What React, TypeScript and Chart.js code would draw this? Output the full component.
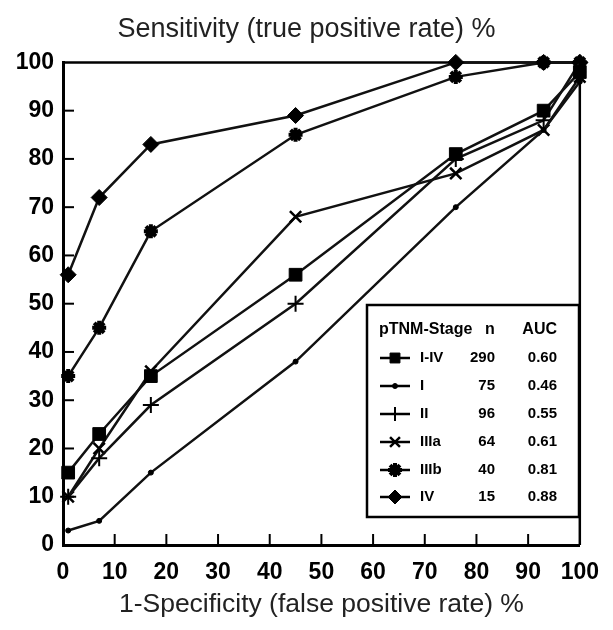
import React, { useEffect, useRef } from 'react';
import { Chart, registerables } from 'chart.js';
import { drawPoint } from 'chart.js/helpers';

Chart.register(...registerables);

// ---- data ----
const fpr = [1, 7, 17, 45, 76, 93, 100];
const tprAll = [15, 23, 35, 56, 81, 90, 98];
const tprI = [3, 5, 15, 38, 70, 86, 96];
const tprII = [10, 18, 29, 50, 80, 88, 100];
const tprIIIa = [10, 20, 36, 68, 77, 86, 97];
const tprIIIb = [35, 45, 65, 85, 97, 100, 100];
const tprIV = [56, 72, 83, 89, 100, 100, 100];

const stageNames = ['I-IV', 'I', 'II', 'IIIa', 'IIIb', 'IV'];
const nValues = ['290', '75', '96', '64', '40', '15'];
const aucValues = ['0.60', '0.46', '0.55', '0.61', '0.81', '0.88'];

const xTickValues = [0, 10, 20, 30, 40, 50, 60, 70, 80, 90, 100];
const yTickValues = [0, 10, 20, 30, 40, 50, 60, 70, 80, 90, 100];

const titleText = 'Sensitivity (true positive rate) %';
const xTitleText = '1-Specificity (false positive rate) %';
const legendHeader = ['pTNM-Stage', 'n', 'AUC'];

// ---- styles ----
const seriesStyles = [
  { pointStyle: 'rect', radius: 9, bw: 1, fill: '#000' },
  { pointStyle: 'circle', radius: 2.5, bw: 1, fill: '#000' },
  { pointStyle: 'cross', radius: 8, bw: 2, fill: '#000' },
  { pointStyle: 'crossRot', radius: 8, bw: 2.5, fill: '#000' },
  { pointStyle: 'star', radius: 7, bw: 4, fill: '#000' },
  { pointStyle: 'rectRot', radius: 8, bw: 1, fill: '#000' },
];

const FONT = "'Liberation Sans', Arial, Helvetica, sans-serif";

const decorPlugin = {
  id: 'decor',
  beforeDatasetsDraw(chart: any) {
    const { ctx, chartArea, scales } = chart;
    const { left, right, top, bottom } = chartArea;
    ctx.save();
    ctx.strokeStyle = '#000';
    ctx.lineWidth = 2;
    xTickValues.forEach((v) => {
      if (v === 0 || v === 100) return;
      const x = scales.x.getPixelForValue(v);
      ctx.beginPath();
      ctx.moveTo(x, bottom);
      ctx.lineTo(x, bottom - 11);
      ctx.stroke();
    });
    yTickValues.forEach((v) => {
      if (v === 0 || v === 100) return;
      const y = scales.y.getPixelForValue(v);
      ctx.beginPath();
      ctx.moveTo(left, y);
      ctx.lineTo(left + 11, y);
      ctx.stroke();
    });
    ctx.lineWidth = 2.5;
    ctx.beginPath();
    ctx.moveTo(left, top);
    ctx.lineTo(right, top);
    ctx.lineTo(right, bottom);
    ctx.stroke();
    ctx.restore();
  },
  afterDatasetsDraw(chart: any) {
    const { ctx } = chart;
    ctx.save();
    const bx = 367, by = 305, bw = 212, bh = 212;
    ctx.fillStyle = '#fff';
    ctx.fillRect(bx, by, bw, bh);
    ctx.strokeStyle = '#000';
    ctx.lineWidth = 2.5;
    ctx.strokeRect(bx, by, bw, bh);

    ctx.fillStyle = '#000';
    ctx.textBaseline = 'middle';
    ctx.font = `bold 16px ${FONT}`;
    ctx.textAlign = 'left';
    ctx.fillText(legendHeader[0], 379, 330);
    ctx.fillText(legendHeader[1], 485, 330);
    ctx.textAlign = 'right';
    ctx.fillText(legendHeader[2], 557, 330);

    const rowY = [358, 386, 414, 442, 470, 497];
    stageNames.forEach((name, i) => {
      const y = rowY[i];
      const st = seriesStyles[i];
      ctx.strokeStyle = '#000';
      ctx.lineWidth = 2.5;
      ctx.beginPath();
      ctx.moveTo(380, y);
      ctx.lineTo(410, y);
      ctx.stroke();
      ctx.fillStyle = st.fill;
      ctx.lineWidth = st.bw;
      drawPoint(ctx, { pointStyle: st.pointStyle, radius: Math.min(st.radius, 7), rotation: 0, borderWidth: st.bw } as any, 395, y);
      ctx.fillStyle = '#000';
      ctx.font = `bold 15px ${FONT}`;
      ctx.textAlign = 'left';
      ctx.fillText(name, 420, y);
      ctx.textAlign = 'right';
      ctx.fillText(nValues[i], 495, y);
      ctx.fillText(aucValues[i], 557, y);
    });
    ctx.restore();
  },
};

export default function App() {
  const ref = useRef<HTMLCanvasElement>(null);
  useEffect(() => {
    const canvas = ref.current!;
    const series = [tprAll, tprI, tprII, tprIIIa, tprIIIb, tprIV];
    const datasets = series.map((vals, i) => {
      const st = seriesStyles[i];
      return {
        label: stageNames[i],
        data: vals.map((y, j) => ({ x: fpr[j], y })),
        borderColor: '#111',
        backgroundColor: '#000',
        borderWidth: 2.5,
        pointStyle: st.pointStyle,
        pointRadius: st.radius,
        pointBorderWidth: st.bw,
        pointBackgroundColor: st.fill,
        pointBorderColor: '#000',
        tension: 0,
        clip: false as any,
      };
    });
    const tickFont = { family: FONT, size: 23, weight: 'bold' as const };
    const titleFont = { family: FONT, size: 27, weight: 'normal' as const };
    const xTitleFont = { family: FONT, size: 26.5, weight: 'normal' as const };
    const chart = new Chart(canvas, {
      type: 'line',
      data: { datasets: datasets as any },
      plugins: [decorPlugin],
      options: {
        responsive: false,
        animation: false,
        devicePixelRatio: 1,
        layout: { padding: { left: 0, right: 0, top: 0, bottom: 0 } },
        plugins: {
          legend: { display: false },
          tooltip: { enabled: false },
          title: {
            display: true,
            text: titleText,
            font: titleFont,
            color: '#222',
            padding: { top: 13, bottom: 17 },
          },
        },
        scales: {
          x: {
            type: 'linear',
            min: 0,
            max: 100,
            afterBuildTicks: (s: any) => {
              s.ticks = xTickValues.map((v) => ({ value: v }));
            },
            ticks: { padding: 14, color: '#000', font: tickFont, maxRotation: 0, autoSkip: false },
            grid: { drawOnChartArea: false, drawTicks: false },
            border: { width: 3, color: '#000' },
            title: {
              display: true,
              text: xTitleText,
              font: xTitleFont,
              color: '#222',
              padding: { top: 0, bottom: 9 },
            },
            afterFit: (s: any) => {
              s.height = 85;
            },
          },
          y: {
            type: 'linear',
            min: 0,
            max: 100,
            afterBuildTicks: (s: any) => {
              s.ticks = yTickValues.map((v) => ({ value: v }));
            },
            ticks: { padding: 9, color: '#000', font: tickFont, autoSkip: false },
            grid: { drawOnChartArea: false, drawTicks: false },
            border: { width: 3, color: '#000' },
            afterFit: (s: any) => {
              s.width = 63;
            },
          },
          yRight: {
            type: 'linear',
            position: 'right',
            min: 0,
            max: 100,
            display: true,
            ticks: { display: false },
            grid: { display: false, drawTicks: false },
            border: { display: false },
            afterFit: (s: any) => {
              s.width = 23;
            },
          },
        },
      } as any,
    });
    return () => chart.destroy();
  }, []);
  return (
    <div style={{ position: 'fixed', left: 0, top: 0, width: 613, height: 630, background: '#fff' }}>
      <canvas ref={ref} width={613} height={630} style={{ width: 613, height: 630, display: 'block' }} />
    </div>
  );
}
